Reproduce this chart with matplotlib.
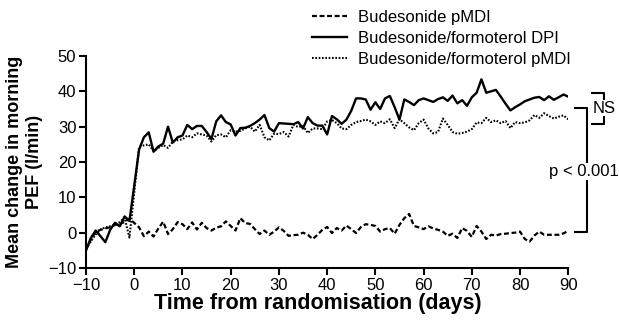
import numpy as np
import matplotlib.pyplot as plt

plt.rcParams['font.family'] = ['Liberation Sans', 'DejaVu Sans']

# study days (no reading on day 0)
days = list(range(-10, 0)) + list(range(1, 91))

bud_pmdi = [-4.7, -2.0, 0.3, 0.8, 1.2, 1.5, 2.2, 2.5, 3.0, 4.0,
            1.5, -1.0, 0.3, -1.1, 1.2, 3.1, -0.4, 1.0, 3.0, 2.4,
            1.0, 2.9, 0.9, 2.8, 1.3, 0.6, 1.4, 1.8, 3.2, 1.9,
            0.6, 4.1, 2.7, 2.5, 1.0, -0.4, 0.6, -0.6, 0.3, 1.5,
            0.5, -0.9, -0.7, -0.6, 0.0, -0.6, -1.8, -0.6, 0.8, 1.6,
            -0.1, 1.3, 0.6, 2.0, 1.0, -0.1, 1.6, 2.4, 2.2, 1.9,
            0.3, 1.0, 1.3, -0.3, 2.2, 4.1, 5.3, 1.9, 1.5, 1.0,
            1.8, 1.2, 0.8, 0.3, -0.9, -0.3, -1.5, 1.3, 0.5, -1.2,
            1.9, 0.3, -1.8, -0.6, -0.8, -0.4, -0.3, -0.1, 0.0, 0.3,
            -1.8, -2.5, -0.8, 0.3, -0.6, -0.6, -0.6, -0.6, -0.2, 0.5]

bf_dpi = [-5.0, -1.5, 0.6, -1.0, -2.7, 0.8, 2.8, 1.8, 4.6, 3.3,
          23.5, 27.0, 28.4, 22.9, 24.4, 25.2, 30.0, 25.5, 27.0, 27.5,
          30.5, 29.3, 30.2, 30.2, 28.5, 26.5, 31.5, 33.2, 31.3, 30.6,
          27.5, 29.6, 29.7, 30.2, 31.0, 32.0, 33.3, 29.6, 28.6, 31.0,
          30.9, 30.8, 30.7, 31.3, 29.5, 32.7, 31.0, 30.3, 30.3, 27.8,
          33.0, 32.1, 30.8, 32.0, 34.5, 38.0, 38.0, 37.7, 34.8, 36.9,
          35.0, 38.0, 38.7, 35.5, 32.0, 37.7, 37.0, 36.1, 37.5, 38.0,
          37.5, 37.0, 37.8, 38.3, 37.3, 38.8, 36.6, 37.5, 35.9, 38.3,
          39.6, 43.4, 39.6, 40.0, 40.4, 38.5, 36.5, 34.6, 35.5, 36.3,
          37.2, 37.7, 38.2, 38.4, 37.5, 38.6, 37.6, 38.3, 39.1, 38.5]

bf_pmdi = [-4.5, -2.5, -0.5, 0.9, 1.5, 1.8, 2.3, 3.0, 4.2, -1.4,
           24.3, 24.7, 25.0, 23.1, 24.0, 24.8, 24.0, 25.8, 26.2, 26.4,
           27.5, 27.0, 28.1, 27.8, 27.5, 25.8, 27.6, 27.8, 27.0, 29.0,
           28.6, 28.8, 29.5, 30.0, 28.6, 30.5, 27.0, 26.1, 28.0, 27.9,
           28.5, 27.2, 30.5, 29.9, 30.2, 28.2, 29.5, 29.5, 29.3, 31.5,
           31.9, 31.0, 29.5, 29.3, 30.5, 31.3, 31.6, 32.0, 31.5, 30.5,
           31.5, 31.0, 32.1, 29.6, 32.1, 31.0, 29.8, 29.0, 31.0, 32.0,
           29.5, 28.1, 28.5, 32.3, 30.5, 28.5, 28.0, 28.2, 28.6, 29.3,
           31.2, 31.0, 32.5, 31.3, 31.8, 31.0, 31.6, 29.6, 31.3, 31.0,
           31.2, 31.8, 33.3, 32.5, 33.8, 33.0, 32.3, 32.8, 33.2, 32.1]

labels = ['Budesonide pMDI', 'Budesonide/formoterol DPI', 'Budesonide/formoterol pMDI']

fig = plt.figure(figsize=(6.19, 3.2), dpi=100)
ax = fig.add_axes([0.139, 0.1625, 0.779, 0.6625])

l1, = ax.plot(days, bud_pmdi, color='black', lw=1.6, linestyle=(0, (2.2, 1.2)))
l2, = ax.plot(days, bf_dpi, color='black', lw=1.7, linestyle='-')
l3, = ax.plot(days, bf_pmdi, color='black', lw=1.5, linestyle=(0, (0.8, 0.8)))

ax.set_xlim(-10, 90)
ax.set_ylim(-10, 50)
ax.set_xticks(range(-10, 91, 10))
ax.set_yticks(range(-10, 51, 10))
ax.set_xticklabels(['\u221210'] + [str(v) for v in range(0, 91, 10)])
ax.set_yticklabels(['\u221210'] + [str(v) for v in range(0, 51, 10)])
ax.tick_params(direction='out', length=5, width=1.5, labelsize=12, pad=2)
for s in ['top', 'right']:
    ax.spines[s].set_visible(False)
for s in ['left', 'bottom']:
    ax.spines[s].set_linewidth(1.5)

ax.set_xlabel('Time from randomisation (days)', fontsize=15.5, fontweight='bold', labelpad=1)
ax.xaxis.set_label_coords(0.48, -0.12)
ax.set_ylabel('Mean change in morning\nPEF (l/min)', fontsize=13, fontweight='bold', labelpad=4)

fig.legend([l1, l2, l3], labels, loc='upper left', bbox_to_anchor=(0.504, 0.97),
           frameon=False, fontsize=12, handlelength=2.1, handletextpad=0.65,
           labelspacing=0.38, borderpad=0, borderaxespad=0)

# significance brackets
ax.plot([91.5, 93.9, 93.9, 91.5], [35.4, 35.4, 0.3, 0.3], color='black', lw=1.5, clip_on=False)
ax.text(93.3, 17.3, 'p < 0.001', fontsize=12, ha='center', va='center',
        bbox=dict(facecolor='white', edgecolor='none', pad=1))
ax.plot([95.0, 97.5, 97.5, 95.0], [39.6, 39.6, 30.8, 30.8], color='black', lw=1.5, clip_on=False)
ax.text(97.4, 35.2, 'NS', fontsize=12, ha='center', va='center',
        bbox=dict(facecolor='white', edgecolor='none', pad=0.5))

fig.savefig('out.png', dpi=100)
